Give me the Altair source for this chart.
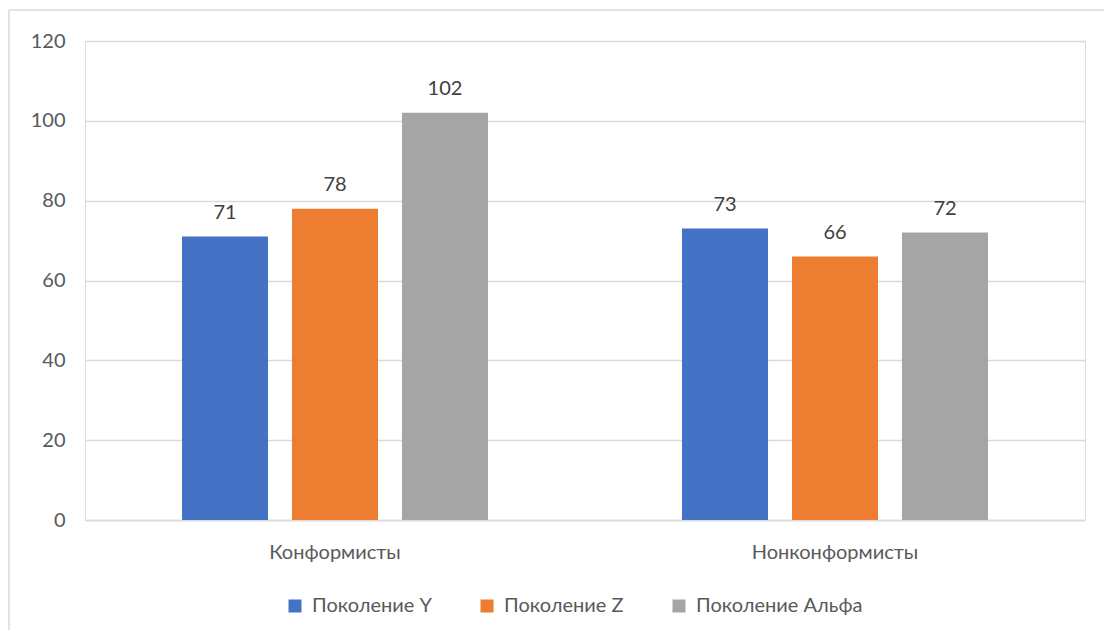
import altair as alt
import pandas as pd

categories = ["Конформисты", "Нонконформисты"]
series = ["Поколение Y", "Поколение Z", "Поколение Альфа"]
values = {
    "Поколение Y": [71, 73],
    "Поколение Z": [78, 66],
    "Поколение Альфа": [102, 72],
}
colors = ["#4472C4", "#ED7D31", "#A5A5A5"]
y_ticks = [0, 20, 40, 60, 80, 100, 120]

rows = []
for s in series:
    for c, v in zip(categories, values[s]):
        rows.append({"cat": c, "series": s, "value": v})
df = pd.DataFrame(rows)

FONT = "Lato"
FS = 20

base = alt.Chart(df).encode(
    x=alt.X("cat:N", sort=categories, title=None,
            scale=alt.Scale(paddingInner=0, paddingOuter=0),
            axis=alt.Axis(labelAngle=0, labelFontSize=FS, labelColor="#595959",
                          labelFont=FONT, ticks=False, domain=True,
                          domainColor="#d9d9d9", domainWidth=1.5, labelPadding=22)),
    xOffset=alt.XOffset("series:N", sort=series,
                        scale=alt.Scale(paddingInner=0.218, paddingOuter=0.882)),
)

bars = base.mark_bar().encode(
    y=alt.Y("value:Q", title=None,
            scale=alt.Scale(domain=[0, 120]),
            axis=alt.Axis(values=y_ticks, labelFontSize=FS, labelColor="#595959",
                          labelFont=FONT, ticks=False, domain=False,
                          gridColor="#d9d9d9", gridWidth=1.5, labelPadding=20)),
    color=alt.Color("series:N", sort=series,
                    scale=alt.Scale(domain=series, range=colors),
                    legend=alt.Legend(title=None, orient="none", direction="horizontal",
                                      legendX=200, legendY=555,
                                      symbolType="square", symbolSize=169,
                                      symbolStrokeWidth=0, labelOffset=7,
                                      labelLimit=400,
                                      labelFontSize=FS, labelColor="#595959",
                                      labelFont=FONT, columnPadding=45)),
)

labels = base.mark_text(dy=-24, fontSize=FS, color="#404040", font=FONT).encode(
    y=alt.Y("value:Q"),
    text=alt.Text("value:Q"),
)

frame_df = pd.DataFrame({"k": [1]})
left_border = alt.Chart(frame_df).mark_rule(color="#d9d9d9", strokeWidth=1.5, clip=False).encode(
    x=alt.value(-76), y=alt.value(-31), y2=alt.value(640))
top_border = alt.Chart(frame_df).mark_rule(color="#d9d9d9", strokeWidth=1.5, clip=False).encode(
    x=alt.value(-76), x2=alt.value(1100), y=alt.value(-31))

chart = alt.layer(bars, labels, left_border, top_border).properties(
    width=1000, height=479,
    autosize=alt.AutoSizeParams(type="none"),
    padding={"left": 77, "top": 33, "right": 19, "bottom": 110},
).configure_view(strokeWidth=0, stroke="transparent").configure(font=FONT, background="white")

chart.save("out.html", embed_options={"renderer": "svg", "actions": False})
